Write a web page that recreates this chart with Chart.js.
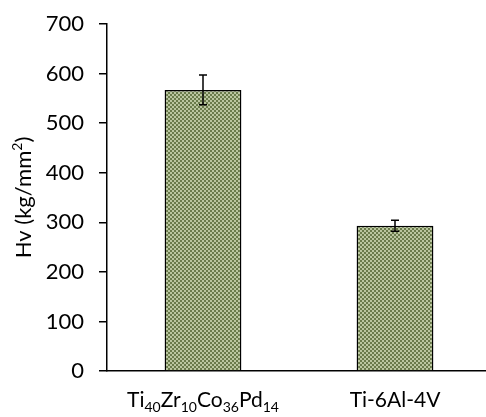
<!DOCTYPE html>
<html>
<head>
<meta charset="utf-8">
<script src="https://cdn.jsdelivr.net/npm/chart.js@4.4.1/dist/chart.umd.min.js"></script>
<style>
  html, body { margin: 0; padding: 0; background: #fff; overflow: hidden; }
  #wrap { width: 491px; height: 417px; }
</style>
</head>
<body>
<div id="wrap"><canvas id="c" width="491" height="417"></canvas></div>
<script>
// Vickers hardness of the two alloys
const categories = ['Ti40Zr10Co36Pd14', 'Ti-6Al-4V'];
// label pieces: [text, isSubscript]
const labelParts = [
  [['Ti', false], ['40', true], ['Zr', false], ['10', true], ['Co', false], ['36', true], ['Pd', false], ['14', true]],
  [['Ti-6Al-4V', false]]
];
const hardness = [567, 293];
const hardnessErr = [30, 11];
const yTicks = [0, 100, 200, 300, 400, 500, 600, 700];
// axis title pieces: [text, isSuperscript]
const yTitleParts = [['Hv (kg/mm', false], ['2', true], [')', false]];

const FONT = 'Lato, "Open Sans", sans-serif';

// small checkered olive fill
function makePattern() {
  const p = document.createElement('canvas');
  p.width = 4; p.height = 4;
  const g = p.getContext('2d');
  g.fillStyle = '#bac69f';
  g.fillRect(0, 0, 4, 4);
  g.fillStyle = '#6a7b4b';
  g.fillRect(0, 0, 2, 2);
  g.fillRect(2, 2, 2, 2);
  return g.createPattern(p, 'repeat');
}

const errorBars = {
  id: 'errorBars',
  afterDatasetsDraw(chart) {
    const ctx = chart.ctx;
    const meta = chart.getDatasetMeta(0);
    const ys = chart.scales.y;
    ctx.save();
    ctx.strokeStyle = '#000';
    ctx.lineWidth = 1.5;
    meta.data.forEach((bar, i) => {
      const x = bar.x;
      const top = ys.getPixelForValue(hardness[i] + hardnessErr[i]);
      const bot = ys.getPixelForValue(hardness[i] - hardnessErr[i]);
      const half = 4;
      ctx.beginPath();
      ctx.moveTo(x, top); ctx.lineTo(x, bot);
      ctx.moveTo(x - half, top); ctx.lineTo(x + half, top);
      ctx.moveTo(x - half, bot); ctx.lineTo(x + half, bot);
      ctx.stroke();
    });
    ctx.restore();
  }
};

// draws a run of text pieces, small pieces shifted by dy
function drawRuns(ctx, parts, x, y, mainFont, smallFont, dy) {
  parts.forEach(([t, s]) => {
    ctx.font = s ? smallFont : mainFont;
    ctx.fillText(t, x, s ? y + dy : y);
    x += ctx.measureText(t).width;
  });
}
function runsWidth(ctx, parts, mainFont, smallFont) {
  let w = 0;
  parts.forEach(([t, s]) => { ctx.font = s ? smallFont : mainFont; w += ctx.measureText(t).width; });
  return w;
}

// category labels with subscripted stoichiometry, and the y title with superscript
const richText = {
  id: 'richText',
  afterDraw(chart) {
    const ctx = chart.ctx;
    const xs = chart.scales.x;
    const area = chart.chartArea;
    ctx.save();
    ctx.fillStyle = '#000';
    ctx.textBaseline = 'alphabetic';
    ctx.textAlign = 'left';
    const mainFont = '21px ' + FONT;
    const subFont = '14px ' + FONT;
    const baseY = area.bottom + 36;
    categories.forEach((c, i) => {
      const parts = labelParts[i];
      const w = runsWidth(ctx, parts, mainFont, subFont);
      drawRuns(ctx, parts, xs.getPixelForTick(i) - w / 2, baseY, mainFont, subFont, 5);
    });

    const tMain = '22px ' + FONT;
    const tSup = '14px ' + FONT;
    const tw = runsWidth(ctx, yTitleParts, tMain, tSup);
    ctx.translate(31, (area.top + area.bottom) / 2);
    ctx.rotate(-Math.PI / 2);
    drawRuns(ctx, yTitleParts, -tw / 2, 0, tMain, tSup, -9);
    ctx.restore();
  }
};

new Chart(document.getElementById('c'), {
  type: 'bar',
  data: {
    labels: categories,
    datasets: [{
      data: hardness,
      backgroundColor: makePattern(),
      borderColor: '#000',
      borderWidth: 1.5,
      categoryPercentage: 1,
      barPercentage: 0.40
    }]
  },
  options: {
    responsive: false,
    animation: false,
    layout: { padding: { top: 24, right: 0, bottom: 46, left: 0 } },
    plugins: { legend: { display: false }, tooltip: { enabled: false } },
    scales: {
      x: {
        grid: { display: false },
        border: { color: '#000', width: 1.5 },
        ticks: { display: false },
        afterFit(s) { s.height = 0; }
      },
      y: {
        min: 0, max: 700,
        afterBuildTicks(s) { s.ticks = yTicks.map(v => ({ value: v })); },
        grid: { drawOnChartArea: false, drawTicks: true, tickLength: 8, color: '#000', lineWidth: 1.5 },
        border: { color: '#000', width: 1.5 },
        ticks: { color: '#000', font: { family: FONT, size: 22 }, padding: 15 },
        afterFit(s) {
          s.width = 107;
          // the plot height is set by the layout padding alone
          s.paddingTop = 0;
          s.paddingBottom = 0;
        }
      }
    }
  },
  plugins: [errorBars, richText]
});
</script>
</body>
</html>
